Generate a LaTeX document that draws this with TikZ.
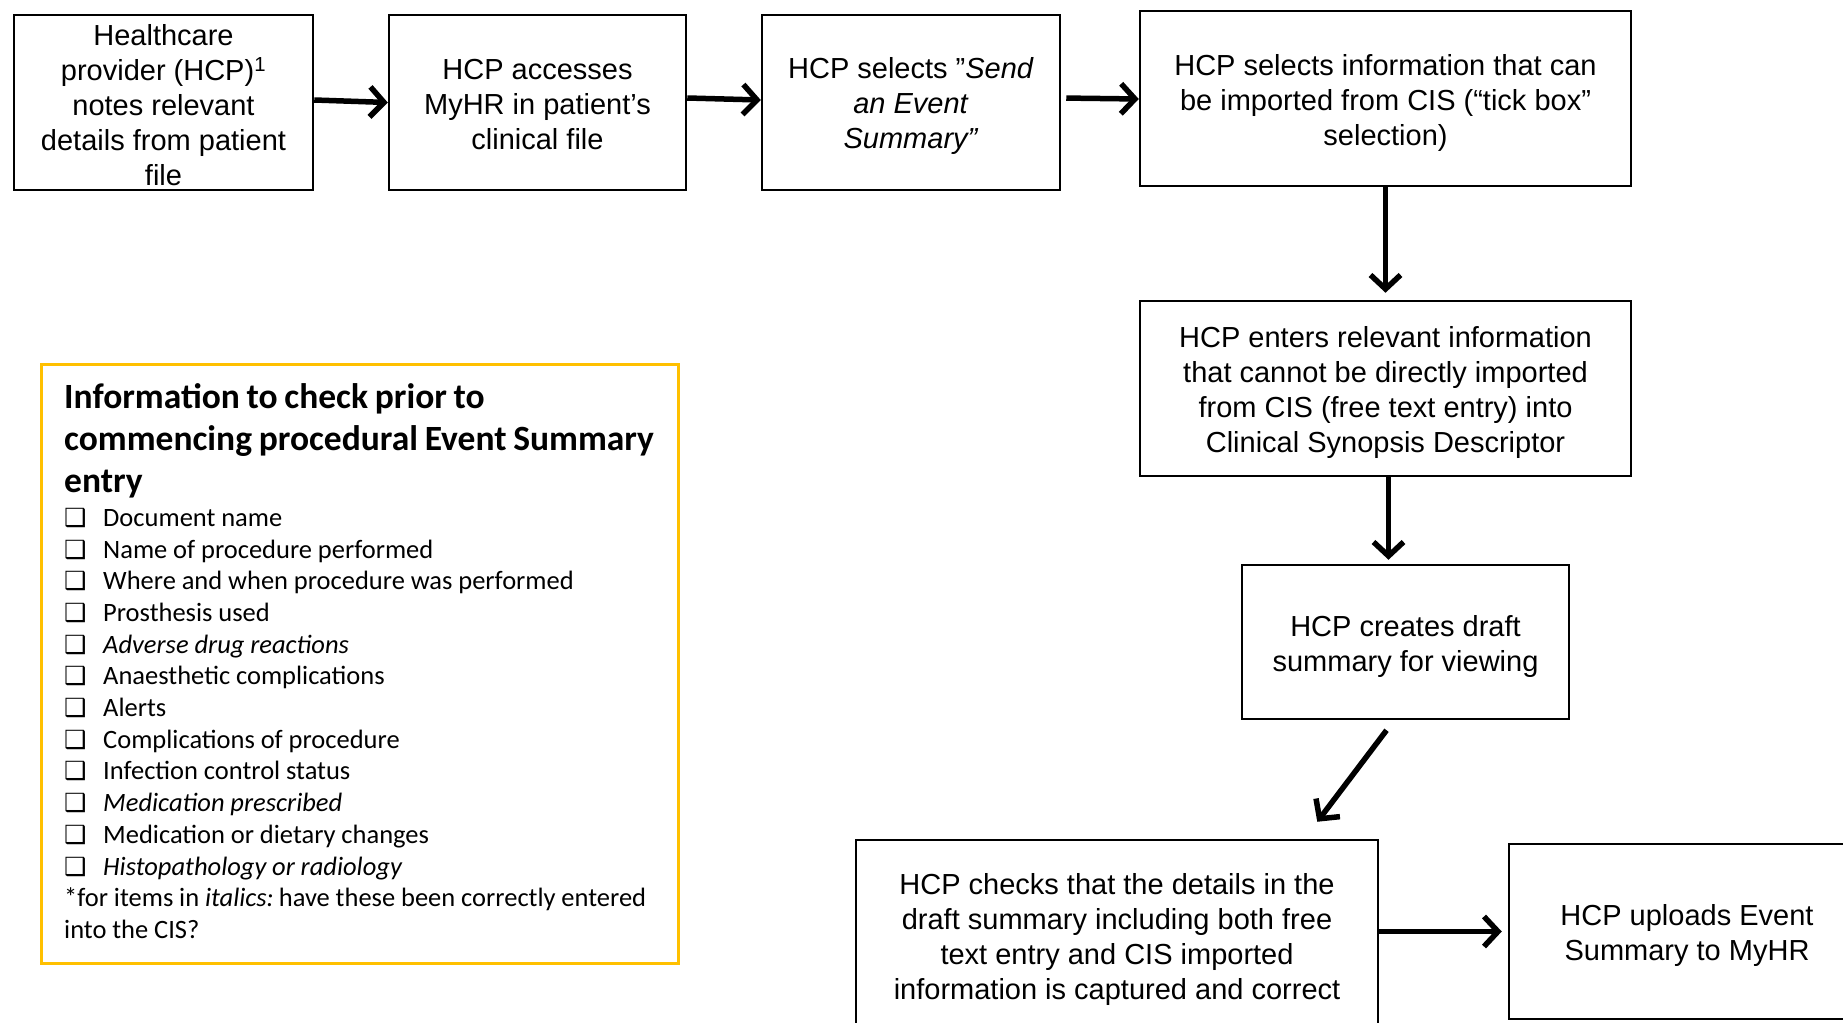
\documentclass[tikz,border=0pt]{standalone}
\usepackage{fontspec}
\setmainfont{Liberation Sans}
\newfontfamily\calfont{Carlito}
\newfontfamily\symfont{DejaVu Sans}
\usetikzlibrary{arrows.meta,calc}
\newcommand{\chkbox}{\makebox[39pt][l]{{\symfont\fontsize{25}{25}\selectfont\symbol{"2751}}}}
\definecolor{gold}{HTML}{FFC000}
\begin{document}
\begin{tikzpicture}[x=1pt,y=-1pt,
  flowbox/.style={draw=black, line width=2.5pt, inner sep=0pt},
  flowtext/.style={align=center, inner sep=0pt, font=\fontsize{29}{35}\selectfont},
  checkbox/.style={draw=gold, line width=3pt, inner sep=0pt},
  arr/.style={line width=5.5pt, -{Straight Barb[length=14pt,width=30pt]}},
]
\clip (0,0) rectangle (1843,1022);
\fill[white] (0,0) rectangle (1843,1022);

\node[flowbox, minimum width=299, minimum height=175] (b1) at (163.5,102.5) {};
\node[flowtext] (t1) at ($(b1.center)+(0,3)$)
  {Healthcare\\provider (HCP)\textsuperscript{1}\\notes relevant\\details from patient\\file};
\node[flowbox, minimum width=297, minimum height=175] (b2) at (537.5,102.5) {};
\node[flowtext] (t2) at ($(b2.center)+(0,2.5)$)
  {HCP accesses\\MyHR in patient’s\\clinical file};
\node[flowbox, minimum width=298, minimum height=175] (b3) at (911,102.5) {};
\node[flowtext] (t3) at ($(b3.center)+(0,4)$)
  {HCP selects ”\textit{Send}\\\textit{an Event}\\\textit{Summary”}};
\node[flowbox, minimum width=491, minimum height=175] (b4) at (1385.5,98.5) {};
\node[flowtext] (t4) at ($(b4.center)+(0,4)$)
  {HCP selects information that can\\be imported from CIS (“tick box”\\selection)};
\node[flowbox, minimum width=491, minimum height=175] (b5) at (1385.5,388.5) {};
\node[flowtext] (t5) at ($(b5.center)+(0,3.5)$)
  {HCP enters relevant information\\that cannot be directly imported\\from CIS (free text entry) into\\Clinical Synopsis Descriptor};
\node[flowbox, minimum width=327, minimum height=154] (b6) at (1405.5,642) {};
\node[flowtext] (t6) at ($(b6.center)+(0,4)$)
  {HCP creates draft\\summary for viewing};
\node[flowbox, minimum width=522, minimum height=192] (b7) at (1117,936) {};
\node[flowtext] (t7) at ($(b7.center)+(0,3)$)
  {HCP checks that the details in the\\draft summary including both free\\text entry and CIS imported\\information is captured and correct};
\node[flowbox, minimum width=356, minimum height=175] (b8) at (1687,931.5) {};
\node[flowtext] (t8) at ($(b8.center)+(0,4)$)
  {HCP uploads Event\\Summary to MyHR};

\node[checkbox, minimum width=637, minimum height=599] (check) at (359.5,663.5) {};
\node[anchor=north west, inner sep=0pt, text width=615pt, align=left, font=\calfont]
  (checktxt) at ($(check.north west)+(24.5,21)$)
  {{\bfseries\fontsize{35.5}{42}\selectfont\spaceskip=0.19em\relax
   Information to check prior to\\
   commencing procedural Event Summary\\entry\par}
   \vspace{2pt}
   {\fontsize{26.5}{31.7}\selectfont\spaceskip=0.22em\relax
   \chkbox Document name\\
   \chkbox Name of procedure performed\\
   \chkbox Where and when procedure was performed\\
   \chkbox Prosthesis used\\
   \chkbox \textit{Adverse drug reactions}\\
   \chkbox Anaesthetic complications\\
   \chkbox Alerts\\
   \chkbox Complications of procedure\\
   \chkbox Infection control status\\
   \chkbox \textit{Medication prescribed}\\
   \chkbox Medication or dietary changes\\
   \chkbox \textit{Histopathology or radiology}\\
   \relax{*}for items in \textit{italics:} have these been correctly entered\\
   into the CIS?\par}};

\draw[arr] ($(b1.east)+(0,-2.5)$) -- (b1.east -| b2.west);
\draw[arr] ($(b2.east)+(0,-4.5)$) -- ($(b2.east -| b3.west)+(0,-2.5)$);
\draw[arr, shorten <=5pt] ($(b3.east)+(0,-4.5)$) -- ($(b3.east -| b4.west)+(0,-3.5)$);
\draw[arr, shorten >=7pt] (b4.south) -- (b5.north);
\draw[arr, shorten >=4pt] ($(b5.south)+(3,0)$) -- ($(b5.south |- b6.north)+(3,0)$);
\draw[arr] ($(b6.south)+(-19,10)$) -- ($(b7.north east)+(-62,-17)$);
\draw[arr, shorten >=6pt] (b8.west -| b7.east) -- (b8.west);
\end{tikzpicture}
\end{document}
